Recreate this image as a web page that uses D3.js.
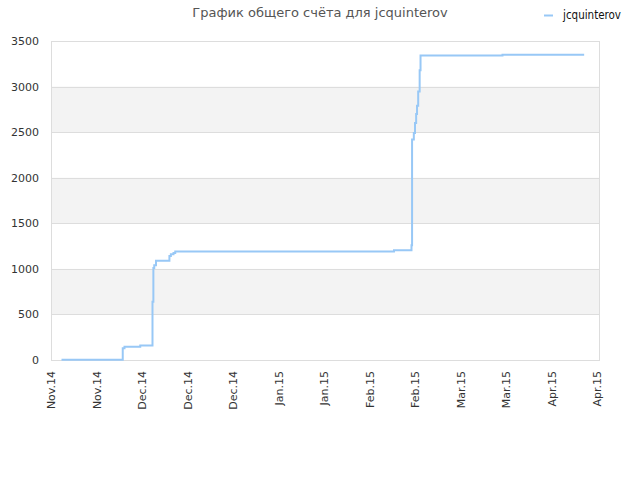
<!DOCTYPE html>
<html>
<head>
<meta charset="utf-8">
<script src="https://cdn.jsdelivr.net/npm/d3@7"></script>
<style>
  html, body { margin: 0; padding: 0; background: #fff; }
  svg { display: block; font-family: "DejaVu Sans", sans-serif; }
</style>
</head>
<body>
<svg id="chart" width="640" height="480"></svg>
<script>
// ---- data ----
const title = "График общего счёта для jcquinterov";
const seriesName = "jcquinterov";
const dates = [
  "2014-11-12T00:00", "2014-11-29T12:00", "2014-11-30T00:00", "2014-12-04T12:00",
  "2014-12-08T00:00", "2014-12-08T06:00", "2014-12-08T12:00", "2014-12-09T00:00",
  "2014-12-12T20:00", "2014-12-13T06:00", "2014-12-14T00:00", "2014-12-14T12:00",
  "2015-02-15T00:00", "2015-02-20T00:00", "2015-02-20T04:00", "2015-02-20T16:00",
  "2015-02-21T00:00", "2015-02-21T08:00", "2015-02-21T14:00", "2015-02-21T22:00",
  "2015-02-22T08:00", "2015-02-22T14:00", "2015-03-18T00:00", "2015-04-10T08:00"
];
const scores = [
  3, 130, 146, 160,
  640, 1010, 1040, 1090,
  1140, 1160, 1175, 1190,
  1205, 1260, 2420, 2490,
  2600, 2700, 2790, 2945,
  3180, 3340, 3350, 3350
];
const xTickDates = [
  "2014-11-09", "2014-11-22", "2014-12-05", "2014-12-18", "2014-12-31",
  "2015-01-13", "2015-01-26", "2015-02-08", "2015-02-21", "2015-03-06",
  "2015-03-19", "2015-04-01", "2015-04-14"
];
const xTickLabels = [
  "Nov.14", "Nov.14", "Dec.14", "Dec.14", "Dec.14", "Jan.15", "Jan.15",
  "Feb.15", "Feb.15", "Mar.15", "Mar.15", "Apr.15", "Apr.15"
];
const yTicks = [0, 500, 1000, 1500, 2000, 2500, 3000, 3500];
const xDomain = ["2014-11-09T00:00", "2015-04-14T20:40"];

// ---- layout ----
const svg = d3.select("#chart");
const pL = 51, pR = 600, pT = 41, pB = 360;
const parse = s => new Date(s.length === 10 ? s + "T00:00" : s);

const x = d3.scaleTime().domain(xDomain.map(parse)).range([pL, pR]);
const y = d3.scaleLinear().domain([0, 3500]).range([pB, pT]);

// alternating bands
const bands = [];
for (let i = 0; i < yTicks.length - 1; i++) {
  if (i % 2 === 1) bands.push([yTicks[i], yTicks[i + 1]]);
}
svg.append("g").selectAll("rect").data(bands).join("rect")
  .attr("x", pL).attr("width", pR - pL)
  .attr("y", d => y(d[1])).attr("height", d => y(d[0]) - y(d[1]))
  .attr("fill", "#f3f3f3");

// grid lines
svg.append("g").selectAll("line").data(yTicks).join("line")
  .attr("x1", pL).attr("x2", pR)
  .attr("y1", d => Math.round(y(d)) + 0.5).attr("y2", d => Math.round(y(d)) + 0.5)
  .attr("stroke", "#dddddd").attr("stroke-width", 1);

// frame sides
svg.append("line").attr("x1", pL + 0.5).attr("x2", pL + 0.5)
  .attr("y1", pT).attr("y2", pB).attr("stroke", "#dddddd");
svg.append("line").attr("x1", pR - 0.5).attr("x2", pR - 0.5)
  .attr("y1", pT).attr("y2", pB).attr("stroke", "#dddddd");

// y axis labels
const yAxis = d3.axisLeft(y).tickValues(yTicks).tickSize(0).tickPadding(12).tickFormat(d3.format("d"));
const gy = svg.append("g").attr("transform", `translate(${pL},0)`).call(yAxis);
gy.select(".domain").remove();
gy.selectAll("text").attr("fill", "#333").style("font-size", "11px").style("font-family", "DejaVu Sans, sans-serif");

// x axis labels
const xAxis = d3.axisBottom(x).tickValues(xTickDates.map(parse)).tickSize(0)
  .tickFormat((d, i) => xTickLabels[i]);
const gx = svg.append("g").attr("transform", `translate(0,${pB})`).call(xAxis);
gx.select(".domain").remove();
gx.selectAll("text")
  .attr("fill", "#333")
  .style("font-size", "11px").style("font-family", "DejaVu Sans, sans-serif")
  .attr("text-anchor", "end")
  .attr("transform", "rotate(-90)")
  .attr("x", -11).attr("y", 0).attr("dy", "0.35em");

// line
const pts = dates.map((d, i) => [parse(d), scores[i]]);
const line = d3.line().x(d => x(d[0])).y(d => y(d[1])).curve(d3.curveStepAfter);
svg.append("path").datum(pts)
  .attr("d", line)
  .attr("fill", "none")
  .attr("stroke", "#98c8f6")
  .attr("stroke-width", 2);

// title
svg.append("text").attr("x", 320).attr("y", 17)
  .attr("text-anchor", "middle")
  .attr("fill", "#555")
  .style("font-size", "13px")
  .text(title);

// legend
svg.append("line").attr("x1", 544).attr("x2", 553).attr("y1", 15.5).attr("y2", 15.5)
  .attr("stroke", "#98c8f6").attr("stroke-width", 2);
svg.append("text").attr("x", 563).attr("y", 19)
  .attr("fill", "#111")
  .style("font-size", "11.5px")
  .style("font-family", "DejaVu Sans Condensed, DejaVu Sans, sans-serif")
  .text(seriesName);
</script>
</body>
</html>
